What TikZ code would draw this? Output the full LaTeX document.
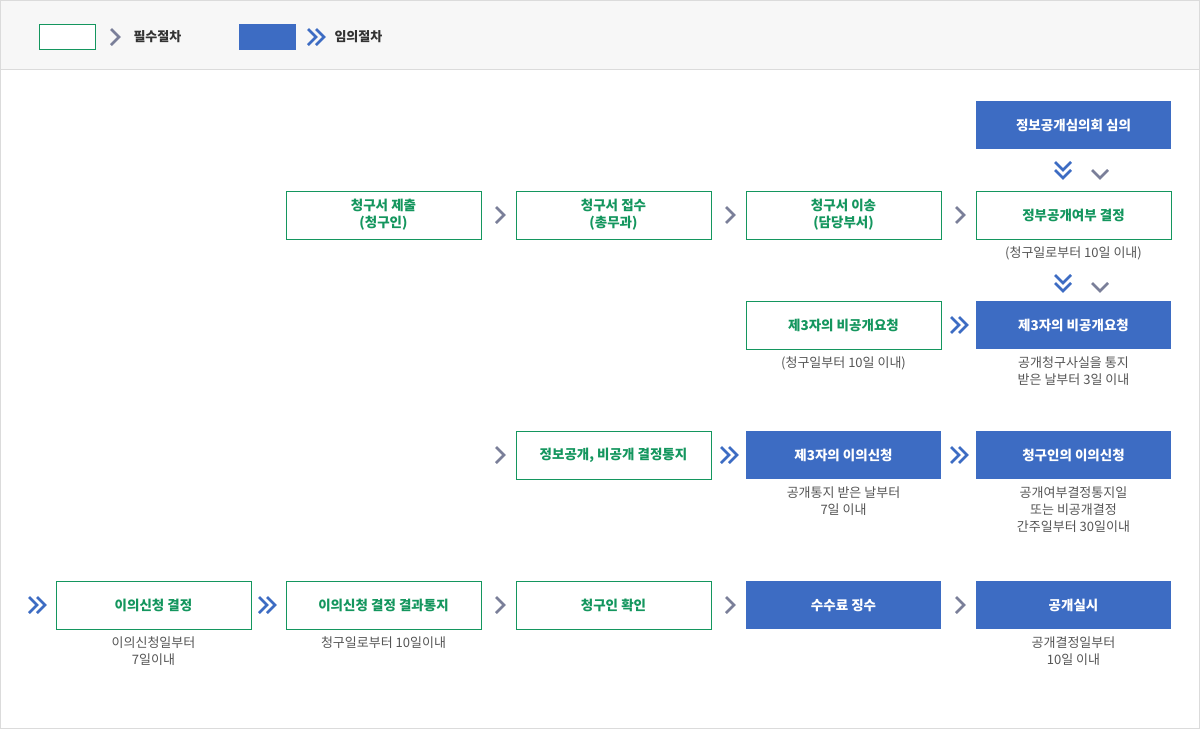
\documentclass[tikz,border=0pt]{standalone}
\usepackage{fontspec}
\setmainfont{Noto Sans CJK KR}
\definecolor{grn}{HTML}{14965E}
\definecolor{blu}{HTML}{3D6CC3}
\definecolor{gch}{HTML}{7A7F99}
\definecolor{txt}{HTML}{555555}
\begin{document}
\begin{tikzpicture}[x=1pt,y=1pt,
  req/.style={draw=grn,line width=1pt,fill=white,minimum width=195pt,minimum height=48pt,text=grn,font=\fontsize{13.5}{17}\selectfont\bfseries,align=center},
  opt/.style={fill=blu,minimum width=195pt,minimum height=48pt,text=white,font=\fontsize{13.5}{17}\selectfont\bfseries,align=center},
  captxt/.style={text=txt,font=\fontsize{13}{17}\selectfont,align=center,anchor=north},
  sg/.pic={\draw[gch,line width=2.6pt] (-4,8)--(4,0)--(-4,-8);},
  db/.pic={\draw[blu,line width=2.6pt] (-8,8)--(0,0)--(-8,-8) (0,8)--(8,0)--(0,-8);},
  sgd/.pic={\draw[gch,line width=2.6pt] (-8,4)--(0,-4)--(8,4);},
  dbd/.pic={\draw[blu,line width=2.6pt] (-8,8)--(0,0)--(8,8) (-8,0)--(0,-8)--(8,0);}]
\useasboundingbox (0,0) rectangle (1200,-729);
\fill[white] (0,0) rectangle (1200,-729);
\fill[black!3] (0,0) rectangle (1200,-69);
\draw[black!14,line width=1pt] (0,-69)--(1200,-69);
\draw[black!14,line width=1pt] (0.5,-0.5) rectangle (1199.5,-728.5);
% legend
\node[draw=grn,line width=1pt,fill=white,minimum width=56pt,minimum height=25pt] (l1) at (67.5,-37) {};
\pic at (115,-37) {sg};
\node[anchor=west,font=\fontsize{13}{15}\selectfont\bfseries,text=black!80] (l1t) at (130,-37) {필수절차};
\node[fill=blu,minimum width=57pt,minimum height=26pt] (l2) at (267.5,-37) {};
\pic at (316,-37) {db};
\node[anchor=west,font=\fontsize{13}{15}\selectfont\bfseries,text=black!80] (l2t) at (331,-37) {임의절차};
% boxes
\node[opt] (a0) at (1073.5,-125) {정보공개심의회 심의};
\node[req] (b1) at (383.5,-215) {청구서 제출\\(청구인)};
\node[req] (b2) at (613.5,-215) {청구서 접수\\(총무과)};
\node[req] (b3) at (843.5,-215) {청구서 이송\\(담당부서)};
\node[req] (b4) at (1073.5,-215) {정부공개여부 결정};
\node[req] (c3) at (843.5,-325) {제3자의 비공개요청};
\node[opt] (c4) at (1073.5,-325) {제3자의 비공개요청};
\node[req] (d2) at (613.5,-455) {정보공개, 비공개 결정통지};
\node[opt] (d3) at (843.5,-455) {제3자의 이의신청};
\node[opt] (d4) at (1073.5,-455) {청구인의 이의신청};
\node[req] (e0) at (153.5,-605) {이의신청 결정};
\node[req] (e1) at (383.5,-605) {이의신청 결정 결과통지};
\node[req] (e2) at (613.5,-605) {청구인 확인};
\node[opt] (e3) at (843.5,-605) {수수료 징수};
\node[opt] (e4) at (1073.5,-605) {공개실시};
% captions
\node[captxt] (t1) at (1073.5,-243) {(청구일로부터 10일 이내)};
\node[captxt] (t2) at (843.5,-353) {(청구일부터 10일 이내)};
\node[captxt] (t3) at (1073.5,-353) {공개청구사실을 통지\\받은 날부터 3일 이내};
\node[captxt] (t4) at (843.5,-483) {공개통지 받은 날부터\\7일 이내};
\node[captxt] (t5) at (1073.5,-483) {공개여부결정통지일\\또는 비공개결정\\간주일부터 30일이내};
\node[captxt] (t6) at (153.5,-633) {이의신청일부터\\7일이내};
\node[captxt] (t7) at (383.5,-633) {청구일로부터 10일이내};
\node[captxt] (t8) at (1073.5,-633) {공개결정일부터\\10일 이내};
% chevrons
\pic at (500,-215) {sg}; \pic at (730,-215) {sg}; \pic at (960,-215) {sg};
\pic at (1063,-170) {dbd}; \pic at (1100,-174) {sgd};
\pic at (1063,-283) {dbd}; \pic at (1100,-287) {sgd};
\pic at (959,-325) {db};
\pic at (500,-455) {sg}; \pic at (729,-455) {db}; \pic at (959,-455) {db};
\pic at (37,-605) {db}; \pic at (267,-605) {db};
\pic at (500,-605) {sg}; \pic at (730,-605) {sg}; \pic at (960,-605) {sg};
\end{tikzpicture}
\end{document}
